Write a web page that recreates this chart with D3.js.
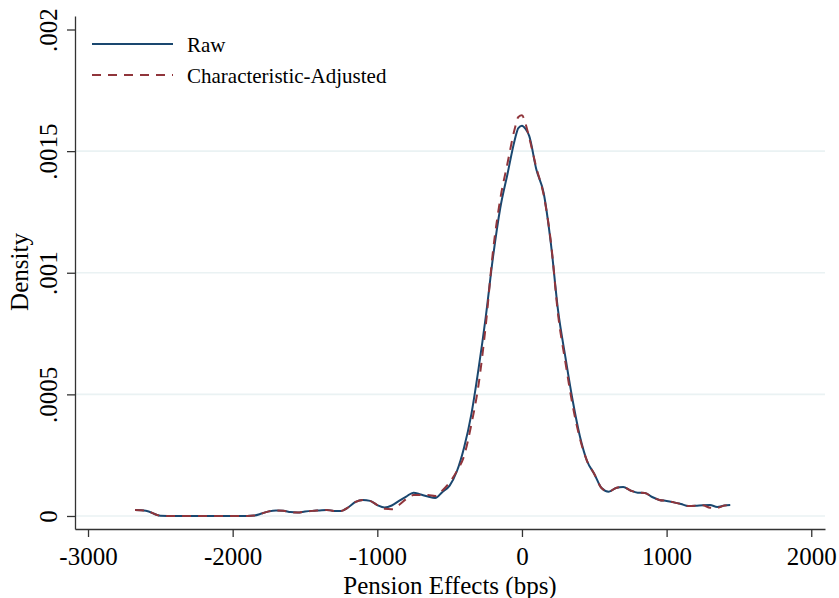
<!DOCTYPE html>
<html><head><meta charset="utf-8">
<script src="https://cdn.jsdelivr.net/npm/d3@7"></script>
<style>body{margin:0;background:#fff}svg{display:block}</style>
</head><body>
<svg id="chart" width="839" height="598"></svg>
<script>
// ---- data ----
const bps = [-2675,-2600,-2500,-2400,-2200,-2000,-1900,-1850,-1800,-1750,-1700,-1650,-1600,-1550,-1500,-1450,-1400,-1350,-1300,-1250,-1200,-1150,-1100,-1050,-1000,-950,-900,-850,-800,-750,-700,-650,-600,-550,-500,-450,-400,-350,-300,-250,-200,-150,-100,-50,-25,0,25,50,100,150,200,250,300,350,400,450,500,550,600,650,700,750,800,850,900,950,1000,1050,1100,1150,1200,1250,1300,1350,1400,1440];
const rawDensity = [2.5e-5,2.2e-5,0.1e-5,0,0,0,0,0.2e-5,1.0e-5,1.9e-5,2.3e-5,2.2e-5,1.6e-5,1.4e-5,1.8e-5,2.1e-5,2.3e-5,2.5e-5,2.1e-5,2.1e-5,3.6e-5,5.8e-5,6.6e-5,6.2e-5,4.5e-5,3.5e-5,4.3e-5,6.2e-5,8.0e-5,9.6e-5,8.8e-5,8.0e-5,7.4e-5,9.9e-5,12.5e-5,18.4e-5,28.2e-5,41.8e-5,60.6e-5,82e-5,106.5e-5,126.6e-5,140.6e-5,154.6e-5,159.5e-5,160.4e-5,159.1e-5,156.3e-5,142.3e-5,132.8e-5,112e-5,84.3e-5,65.4e-5,47.7e-5,32.9e-5,22.6e-5,17.3e-5,11.5e-5,10.0e-5,11.5e-5,11.9e-5,10.5e-5,9.6e-5,9.5e-5,7.8e-5,6.6e-5,6.2e-5,5.6e-5,4.9e-5,4.1e-5,4.2e-5,4.4e-5,4.5e-5,3.7e-5,4.3e-5,4.5e-5];
const adjDensity = [2.5e-5,2.2e-5,0.1e-5,0,0,0,0,0.2e-5,1.0e-5,1.9e-5,2.3e-5,2.2e-5,1.6e-5,1.4e-5,1.8e-5,2.1e-5,2.3e-5,2.5e-5,2.1e-5,2.1e-5,3.6e-5,5.8e-5,6.6e-5,6.2e-5,4.5e-5,3.0e-5,2.8e-5,4.5e-5,7.0e-5,8.6e-5,8.6e-5,8.6e-5,8.2e-5,10.5e-5,13.8e-5,18.5e-5,24.7e-5,37.6e-5,54e-5,78.5e-5,109e-5,130.3e-5,145e-5,159.2e-5,164e-5,164.7e-5,161.2e-5,155.6e-5,143.1e-5,132e-5,112.7e-5,82.6e-5,63.3e-5,45.6e-5,32e-5,22.6e-5,17.3e-5,11.5e-5,10.0e-5,11.5e-5,11.9e-5,10.5e-5,9.6e-5,9.5e-5,7.8e-5,6.6e-5,6.2e-5,5.6e-5,4.9e-5,4.1e-5,4.2e-5,4.4e-5,3.4e-5,3.3e-5,4.3e-5,4.5e-5];
const seriesNames = ["Raw","Characteristic-Adjusted"];
const xTicks = [-3000,-2000,-1000,0,1000,2000];
const xTickLabels = ["-3000","-2000","-1000","0","1000","2000"];
const yTicks = [0,0.0005,0.001,0.0015,0.002];
const yTickLabels = ["0",".0005",".001",".0015",".002"];
const yGrid = [0,0.0005,0.001,0.0015];
const xTitle = "Pension Effects (bps)";
const yTitle = "Density";

// ---- layout ----
const FONT = "'Liberation Serif','Times New Roman',serif";
const colors = ["#1a476f","#90353b"];
const svg = d3.select("#chart");
svg.append("rect").attr("width",839).attr("height",598).attr("fill","#fff");

const x = d3.scaleLinear().domain([-3090, 2095]).range([75, 825]);
const y = d3.scaleLinear().domain([-0.0000535, 0.0020555]).range([529, 16]);

// gridlines
svg.append("g").selectAll("line").data(yGrid).join("line")
  .attr("x1",75).attr("x2",825)
  .attr("y1",d=>y(d)).attr("y2",d=>y(d))
  .attr("stroke","#eaf2f3").attr("stroke-width",1.6);

// axes
const xAxis = d3.axisBottom(x).tickValues(xTicks)
  .tickFormat((d,i)=>xTickLabels[i]).tickSize(8).tickSizeOuter(0);
const gx = svg.append("g").attr("transform","translate(0,529)").call(xAxis);
gx.select(".domain").attr("stroke","#333").attr("stroke-width",1.3);
gx.selectAll(".tick line").attr("stroke","#333").attr("stroke-width",1.3);
gx.selectAll(".tick text").attr("font-family",FONT).attr("font-size",25)
  .attr("fill","#000").attr("y",36).attr("dy",0);

const yAxis = d3.axisLeft(y).tickValues(yTicks)
  .tickFormat((d,i)=>yTickLabels[i]).tickSize(8).tickSizeOuter(0);
const gy = svg.append("g").attr("transform","translate(75,0)").call(yAxis);
gy.select(".domain").attr("stroke","#333").attr("stroke-width",1.3);
gy.selectAll(".tick line").attr("stroke","#333").attr("stroke-width",1.3);
gy.selectAll(".tick text").attr("font-family",FONT).attr("font-size",25)
  .attr("fill","#000").attr("x",null).attr("dy",0)
  .attr("text-anchor","middle")
  .attr("transform","translate(-18,0) rotate(-90)");

// axis titles
svg.append("text").attr("x",450).attr("y",594).attr("text-anchor","middle")
  .attr("font-family",FONT).attr("font-size",25).attr("fill","#000").text(xTitle);
svg.append("text").attr("transform","translate(28,272) rotate(-90)")
  .attr("text-anchor","middle").attr("font-family",FONT).attr("font-size",25)
  .attr("fill","#000").text(yTitle);

// lines
const line = d3.line().x(d=>x(d[0])).y(d=>y(d[1])).curve(d3.curveMonotoneX);
const rawPts = bps.map((b,i)=>[b, rawDensity[i]]);
const adjPts = bps.map((b,i)=>[b, adjDensity[i]]);
svg.append("path").datum(rawPts).attr("d",line).attr("fill","none")
  .attr("stroke",colors[0]).attr("stroke-width",2).attr("stroke-linejoin","round");
svg.append("path").datum(adjPts).attr("d",line).attr("fill","none")
  .attr("stroke",colors[1]).attr("stroke-width",2).attr("stroke-dasharray","9,7");

// legend
const leg = svg.append("g");
const legY = [44, 75];
seriesNames.forEach((name,i)=>{
  leg.append("line").attr("x1",92).attr("x2",173).attr("y1",legY[i]).attr("y2",legY[i])
    .attr("stroke",colors[i]).attr("stroke-width",2)
    .attr("stroke-dasharray", i===1 ? "9,7" : null);
  leg.append("text").attr("x",187).attr("y",legY[i]+8)
    .attr("font-family",FONT).attr("font-size",21).attr("fill","#000").text(name);
});
</script>
</body></html>
